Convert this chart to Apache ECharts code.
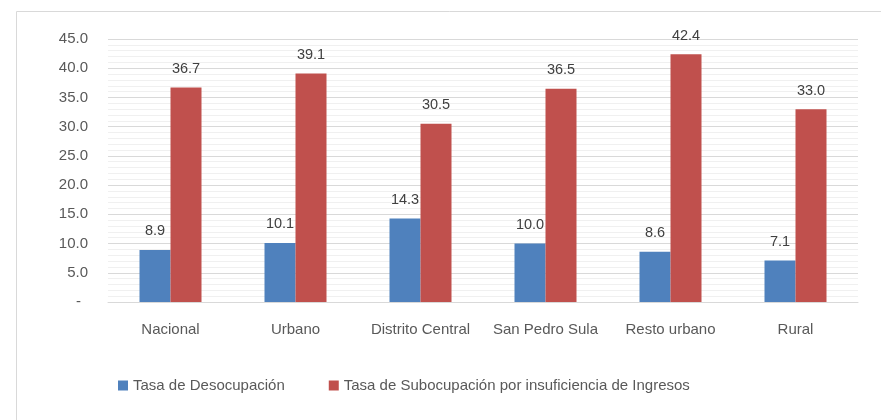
<!DOCTYPE html>
<html><head><meta charset="utf-8">
<script src="https://cdn.jsdelivr.net/npm/echarts@6/dist/echarts.min.js"></script>
<style>html,body{margin:0;padding:0;background:#fff}#c{width:881px;height:420px}</style>
</head><body><div id="c"></div>
<script>
const categories = ['Nacional','Urbano','Distrito Central','San Pedro Sula','Resto urbano','Rural'];
const desocupacion = [8.9, 10.1, 14.3, 10.0, 8.6, 7.1];
const subocupacion = [36.7, 39.1, 30.5, 36.5, 42.4, 33.0];
const seriesNames = ['Tasa de Desocupación','Tasa de Subocupación por insuficiencia de Ingresos'];
const yTicks = {min:0, max:45, interval:5};

const FONT = 'Liberation Sans';
const chart = echarts.init(document.getElementById('c'));
const lbl = {show:true, position:'top', distance:11, color:'#404040', fontSize:14.5, fontFamily:FONT, formatter:p=>p.value.toFixed(1)};
chart.setOption({
  animation:false,
  textStyle:{fontFamily:FONT},
  graphic:[{type:'rect', shape:{x:16.5,y:11.5,width:900,height:500}, style:{fill:'none', stroke:'#d9d9d9', lineWidth:1}, silent:true}],
  grid:{left:108, right:23, top:39, bottom:118, containLabel:false},
  legend:{left:113, top:373, itemWidth:10, itemHeight:10, itemGap:44, icon:'rect',
    textStyle:{color:'#595959', fontSize:15, fontFamily:FONT}, data:seriesNames},
  xAxis:{type:'category', data:categories, axisTick:{show:false},
    axisLine:{lineStyle:{color:'#d9d9d9'}},
    axisLabel:{color:'#595959', fontSize:15, fontFamily:FONT, margin:20, interval:0}},
  yAxis:{type:'value', min:yTicks.min, max:yTicks.max, interval:yTicks.interval,
    axisLine:{show:false}, axisTick:{show:false},
    axisLabel:{color:'#595959', fontSize:15, fontFamily:FONT, margin:20,
      formatter:v=>v===0?'{d|-}':v.toFixed(1),
      rich:{d:{color:'#595959', fontSize:15, fontFamily:FONT, padding:[0,7,0,0]}}},
    splitLine:{lineStyle:{color:'#d9d9d9'}},
    minorTick:{show:false, splitNumber:5},
    minorSplitLine:{show:true, lineStyle:{color:'#f0f0f0'}}},
  series:[
    {name:seriesNames[0], type:'bar', data:desocupacion, barWidth:31, barGap:'0%', itemStyle:{color:'#4F81BD'}, label:lbl},
    {name:seriesNames[1], type:'bar', data:subocupacion, barWidth:31, itemStyle:{color:'#C0504D'}, label:lbl}
  ]
});
</script></body></html>
